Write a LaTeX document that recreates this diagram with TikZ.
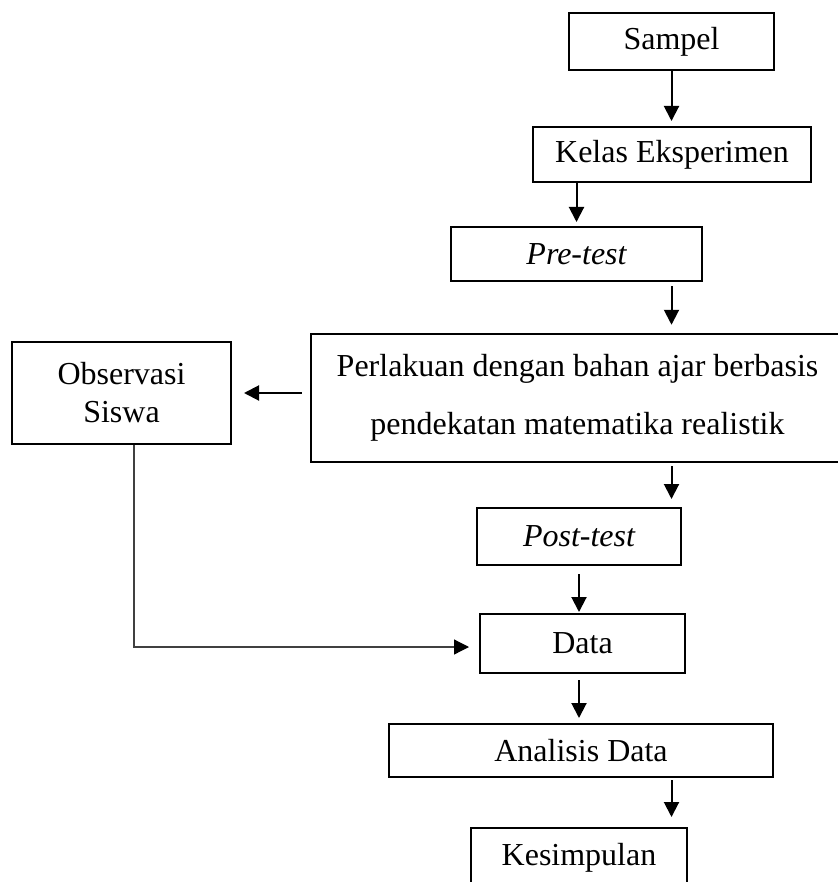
\documentclass[tikz,border=0pt]{standalone}
\usepackage{fontspec}
\setmainfont{Liberation Serif}
\usetikzlibrary{arrows.meta}
\begin{document}
\begin{tikzpicture}[x=0.5pt,y=-0.5pt,
  box/.style={draw=black,line width=1pt,inner sep=0pt,align=center,
    font=\fontsize{16}{19}\selectfont},
  arr/.style={line width=1pt,-{Triangle[length=7.5pt,width=7.5pt]}},
  thinline/.style={draw=black!75,line width=0.6pt}]
\useasboundingbox (0,0) rectangle (838,882);
\node[box,minimum width=102.5pt,minimum height=28.5pt] (sampel) at (671.5,41.5) {Sampel};
\node[box,minimum width=139pt,minimum height=27.5pt] (kelas) at (672,154.5) {Kelas Eksperimen};
\node[box,minimum width=125.5pt,minimum height=27pt] (pre) at (576.5,254) {\itshape Pre-test};
\node[box,minimum width=266.5pt,minimum height=64.25pt,font=\fontsize{16}{29}\selectfont] (perl) at (577.5,398)
  {Perlakuan dengan bahan ajar berbasis\\pendekatan matematika realistik};
\node[box,minimum width=109.5pt,minimum height=51.25pt] (obs) at (121.5,393) {Observasi\\Siswa};
\node[box,minimum width=102.25pt,minimum height=28.5pt] (post) at (579,536.5) {\itshape Post-test};
\node[box,minimum width=102.5pt,minimum height=29.5pt] (data) at (582.5,643.5) {Data};
\node[box,minimum width=192.25pt,minimum height=26.5pt] (ana) at (581,750.5) {Analisis Data};
\node[box,minimum width=108pt,minimum height=30pt] (kes) at (579,858) {Kesimpulan};

\draw[arr,shorten >=2.5pt] (sampel.south) -- (kelas.north -| sampel.south);
\draw[arr,shorten >=2pt] (kelas.south -| pre.north) -- (pre.north);
\draw[arr,shorten <=2pt,shorten >=4pt] (pre.south -| sampel.south) -- (perl.north -| sampel.south);
\draw[arr,shorten <=4.25pt,shorten >=6pt] (perl.west |- obs.east) -- (obs.east);
\draw[arr,shorten <=1.5pt,shorten >=4pt] (perl.south -| sampel.south) -- (post.north -| sampel.south);
\draw[arr,shorten <=4pt,shorten >=0.5pt] (post.south) -- (data.north -| post.south);
\draw[arr,shorten <=3pt,shorten >=2.5pt] (data.south -| post.south) -- (ana.north -| post.south);
\draw[arr,shorten <=1pt,shorten >=5pt] (ana.south -| sampel.south) -- (kes.north -| sampel.south);
\draw[thinline] ([xshift=6.25pt]obs.south) |- ([yshift=-1.75pt,xshift=-12pt]data.west);
\draw[arr,line width=0.6pt,shorten >=5pt] ([yshift=-1.75pt,xshift=-12.5pt]data.west) -- ([yshift=-1.75pt]data.west);
\end{tikzpicture}
\end{document}
